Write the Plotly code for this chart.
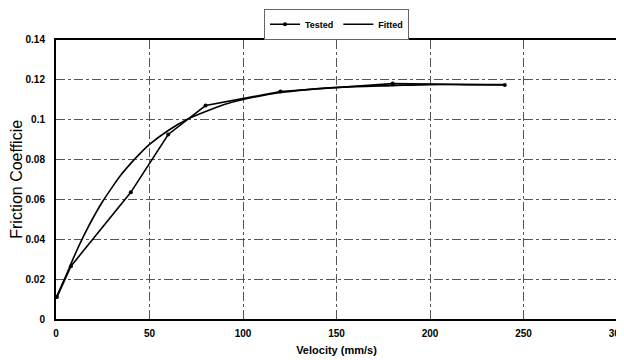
import plotly.graph_objects as go

# Tested data
tested_x = [0.5, 8, 40, 60, 80, 120, 180, 240]
tested_y = [0.011, 0.0265, 0.0635, 0.0925, 0.107, 0.114, 0.118, 0.1173]

# Fitted curve
fitted_x = [0, 5, 10, 15, 20, 25, 30, 35, 40, 45, 50, 60, 70, 80, 90, 100,
            120, 140, 160, 180, 200, 220, 240]
fitted_y = [0.0105, 0.021, 0.032, 0.042, 0.051, 0.059, 0.066, 0.0725, 0.078,
            0.083, 0.0875, 0.0945, 0.100, 0.104, 0.1075, 0.110, 0.1135,
            0.1155, 0.1165, 0.117, 0.1175, 0.1175, 0.1175]

x_ticks = [0, 50, 100, 150, 200, 250, 300]
y_ticks = [0, 0.02, 0.04, 0.06, 0.08, 0.1, 0.12, 0.14]
y_tick_labels = ["0", "0.02", "0.04", "0.06", "0.08", "0.1", "0.12", "0.14"]

FONT = "Liberation Sans"

fig = go.Figure()
fig.add_trace(go.Scatter(
    x=tested_x, y=tested_y, name="Tested", mode="lines+markers",
    line=dict(color="black", width=1.6),
    marker=dict(color="black", size=4, symbol="circle"),
))
fig.add_trace(go.Scatter(
    x=fitted_x, y=fitted_y, name="Fitted", mode="lines",
    line=dict(color="black", width=1.6, shape="spline", smoothing=0.8),
))

# the page body adds an 8px offset, so the figure is 616x352
fig.update_layout(
    width=616, height=352,
    margin=dict(l=48, r=7, t=31, b=41),
    paper_bgcolor="white", plot_bgcolor="white",
    font=dict(family=FONT, size=9, color="black"),
    showlegend=True,
    legend=dict(
        orientation="h", x=0.5, xanchor="center",
        yref="container", y=0.998, yanchor="top",
        bordercolor="#666", borderwidth=1, bgcolor="white",
        font=dict(family=FONT, size=9, color="black", weight="bold"),
        itemwidth=30, tracegroupgap=0,
    ),
    xaxis=dict(
        range=[0, 300], tickvals=x_ticks, ticktext=[str(v) for v in x_ticks],
        showgrid=True, gridcolor="#555", griddash="dashdot", gridwidth=1,
        showline=True, linecolor="black", linewidth=2, mirror=True,
        zeroline=False, ticks="", automargin=False, ticklabelstandoff=4,
        ticklabeloverflow="allow",
        tickfont=dict(family=FONT, size=10, color="black", weight="bold"),
        title=dict(text="Velocity (mm/s)", standoff=8,
                   font=dict(family=FONT, size=11, color="black", weight="bold")),
    ),
    yaxis=dict(
        range=[0, 0.14], tickvals=y_ticks, ticktext=y_tick_labels,
        showgrid=True, gridcolor="#555", griddash="dashdot", gridwidth=1,
        showline=True, linecolor="black", linewidth=2, mirror=True,
        zeroline=False, ticks="", automargin=False, ticklabelstandoff=7,
        tickfont=dict(family=FONT, size=10, color="black", weight="bold"),
        title=dict(text="Friction Coefficie", standoff=3,
                   font=dict(family=FONT, size=16, color="black")),
    ),
)

fig.write_html("out.html")
